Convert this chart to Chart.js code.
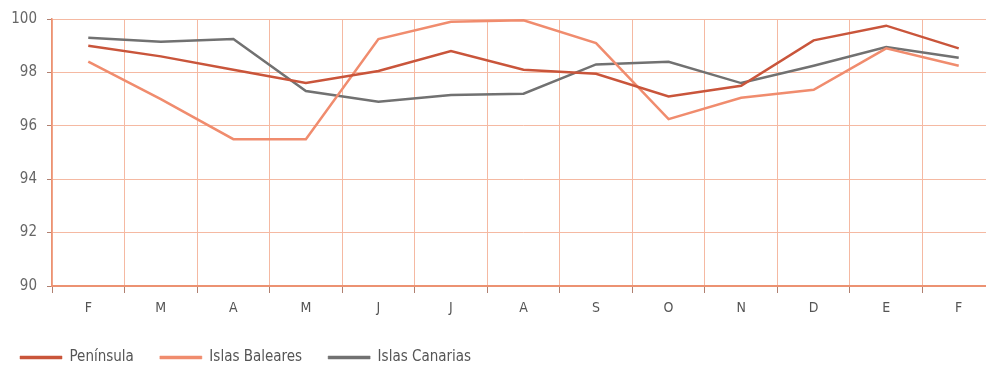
<!DOCTYPE html>
<html>
<head>
<meta charset="utf-8">
<script src="https://cdn.jsdelivr.net/npm/chart.js@4"></script>
<style>
  html, body { margin: 0; padding: 0; background: #fff; overflow: hidden; }
  #wrap { width: 986px; height: 369px; overflow: hidden; }
  /* the source picture is a crop of a slightly larger chart */
  #inner { width: 995px; height: 375px; }
</style>
</head>
<body>
<div id="wrap"><div id="inner"><canvas id="chart"></canvas></div></div>
<script>
// months, Feb to Feb
const months = ["F", "M", "A", "M", "J", "J", "A", "S", "O", "N", "D", "E", "F"];
const peninsula = [99.0, 98.6, 98.1, 97.6, 98.05, 98.8, 98.1, 97.95, 97.1, 97.5, 99.2, 99.75, 98.9];
const baleares = [98.4, 97.0, 95.5, 95.5, 99.25, 99.9, 99.95, 99.1, 96.25, 97.05, 97.35, 98.9, 98.25];
const canarias = [99.3, 99.15, 99.25, 97.3, 96.9, 97.15, 97.2, 98.3, 98.4, 97.6, 98.25, 98.95, 98.55];
const yTicks = [90, 92, 94, 96, 98, 100];

const FONT = "'Liberation Sans Narrow', 'DejaVu Sans Condensed', sans-serif";
const gridColor = "#f5b9a2";

const ctx = document.getElementById("chart").getContext("2d");
new Chart(ctx, {
  type: "line",
  data: {
    labels: months,
    datasets: [
      { label: "Península", data: peninsula, borderColor: "#c9553b", backgroundColor: "#c9553b", borderWidth: 2.5 },
      { label: "Islas Baleares", data: baleares, borderColor: "#f08c6e", backgroundColor: "#f08c6e", borderWidth: 2.5 },
      { label: "Islas Canarias", data: canarias, borderColor: "#717171", backgroundColor: "#717171", borderWidth: 2.5 },
    ],
  },
  options: {
    responsive: true,
    maintainAspectRatio: false,
    animation: false,
    elements: { point: { radius: 0 }, line: { tension: 0 } },
    layout: { padding: { top: 14, right: 0, left: -6, bottom: 0 } },
    plugins: {
      tooltip: { enabled: false },
      legend: {
        position: "bottom",
        align: "start",
        labels: {
          boxWidth: 42,
          boxHeight: 3,
          padding: 26,
          color: "#555",
          font: { family: FONT, size: 15 },
          generateLabels: (chart) =>
            Chart.defaults.plugins.legend.labels.generateLabels(chart).map(it => ({ ...it, lineWidth: 0.5 })),
        },
      },
    },
    scales: {
      x: {
        offset: true,
        afterFit: (axis) => { axis.height = 38; },
        grid: { color: gridColor, offset: true, tickLength: 7, tickColor: "#b08070", lineWidth: 1 },
        border: { color: "#ec9272", width: 2 },
        ticks: { color: "#555", font: { family: FONT, size: 14 }, padding: 7 },
      },
      y: {
        min: 90,
        max: 100,
        afterFit: (axis) => { axis.width = 58; },
        afterBuildTicks: (axis) => { axis.ticks = yTicks.map(v => ({ value: v })); },
        grid: { color: gridColor, tickLength: 5, tickColor: "#b08070" },
        border: { color: "#ec9272", width: 1.5 },
        ticks: { color: "#666", font: { family: FONT, size: 15 }, padding: 10 },
      },
    },
  },
});
</script>
</body>
</html>
